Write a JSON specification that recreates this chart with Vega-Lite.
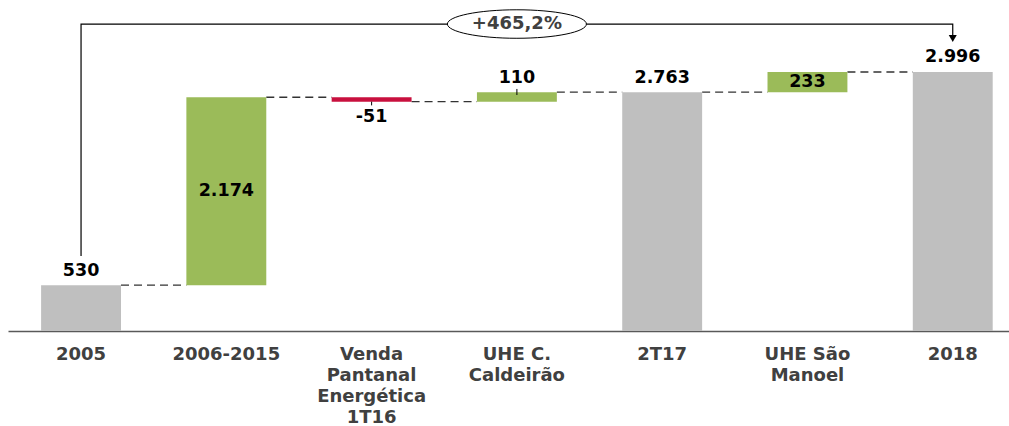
{
  "$schema": "https://vega.github.io/schema/vega-lite/v6.json",
  "autosize": {"type": "none"},
  "width": 1001,
  "height": 331,
  "padding": {"left": 8, "top": 0, "right": 0, "bottom": 95},
  "background": "white",
  "config": {
    "view": {"stroke": null}
  },
  "datasets": {
    "bars": [
      {"cat": "2005", "start": 0, "end": 530, "kind": "total", "text": "530", "ty": 694},
      {"cat": "2006-2015", "start": 530, "end": 2704, "kind": "up", "text": "2.174", "ty": 1617},
      {"cat": "Venda|Pantanal|Energética|1T16", "start": 2704, "end": 2653, "kind": "down", "text": "-51", "ty": 2475},
      {"cat": "UHE C.|Caldeirão", "start": 2653, "end": 2763, "kind": "up", "text": "110", "ty": 2932},
      {"cat": "2T17", "start": 0, "end": 2763, "kind": "total", "text": "2.763", "ty": 2927},
      {"cat": "UHE São|Manoel", "start": 2763, "end": 2996, "kind": "up", "text": "233", "ty": 2875},
      {"cat": "2018", "start": 0, "end": 2996, "kind": "total", "text": "2.996", "ty": 3175}
    ],
    "connectors": [
      {"from": "2005", "to": "2006-2015", "level": 530},
      {"from": "2006-2015", "to": "Venda|Pantanal|Energética|1T16", "level": 2704},
      {"from": "Venda|Pantanal|Energética|1T16", "to": "UHE C.|Caldeirão", "level": 2653},
      {"from": "UHE C.|Caldeirão", "to": "2T17", "level": 2763},
      {"from": "2T17", "to": "UHE São|Manoel", "level": 2763},
      {"from": "UHE São|Manoel", "to": "2018", "level": 2996}
    ],
    "leaders": [
      {"cat": "Venda|Pantanal|Energética|1T16", "y1": 2653, "y2": 2610},
      {"cat": "UHE C.|Caldeirão", "y1": 2730, "y2": 2800}
    ],
    "bracket": [
      {"cat": "2005", "v": 868, "o": 1},
      {"cat": "2005", "v": 3551, "o": 2},
      {"cat": "2018", "v": 3551, "o": 3},
      {"cat": "2018", "v": 3390, "o": 4}
    ],
    "arrow": [{"cat": "2018", "v": 3383}],
    "badge": [{"cat": "UHE C.|Caldeirão", "v": 3551, "text": "+465,2%"}]
  },
  "encoding": {
    "x": {
      "type": "nominal",
      "scale": {
        "domain": ["2005", "2006-2015", "Venda|Pantanal|Energética|1T16", "UHE C.|Caldeirão", "2T17", "UHE São|Manoel", "2018"],
        "paddingInner": 0.45, "paddingOuter": 0.17, "align": 0.67
      },
      "axis": {
        "title": null, "labelAngle": 0, "ticks": false,
        "labelExpr": "split(datum.label, '|')",
        "labelFont": "DejaVu Sans", "labelFontWeight": "bold", "labelFontSize": 18,
        "labelColor": "#404040", "labelLineHeight": 21, "labelPadding": 14,
        "domainColor": "#595959", "domainWidth": 1.5, "grid": false
      }
    }
  },
  "layer": [
    {
      "data": {"name": "connectors"},
      "mark": {"type": "rule", "strokeDash": [8, 5], "color": "#333333", "strokeWidth": 1.3},
      "encoding": {
        "x": {"field": "from", "type": "nominal", "bandPosition": 1},
        "x2": {"field": "to", "bandPosition": 0},
        "y": {"field": "level", "type": "quantitative", "scale": {"domain": [0, 3829], "nice": false}, "axis": null}
      }
    },
    {
      "data": {"name": "bars"},
      "mark": {"type": "bar"},
      "encoding": {
        "x": {"field": "cat", "type": "nominal"},
        "y": {"field": "start", "type": "quantitative"},
        "y2": {"field": "end"},
        "color": {
          "field": "kind", "type": "nominal", "legend": null,
          "scale": {"domain": ["total", "up", "down"], "range": ["#BFBFBF", "#9BBB59", "#C8103E"]}
        }
      }
    },
    {
      "data": {"name": "leaders"},
      "mark": {"type": "rule", "color": "#000000", "strokeWidth": 1},
      "encoding": {
        "x": {"field": "cat", "type": "nominal"},
        "y": {"field": "y1", "type": "quantitative"},
        "y2": {"field": "y2"}
      }
    },
    {
      "data": {"name": "bracket"},
      "mark": {"type": "line", "color": "#000000", "strokeWidth": 1.2},
      "encoding": {
        "x": {"field": "cat", "type": "nominal"},
        "y": {"field": "v", "type": "quantitative"},
        "order": {"field": "o", "type": "quantitative"}
      }
    },
    {
      "data": {"name": "arrow"},
      "mark": {"type": "point", "shape": "triangle-down", "size": 64, "filled": true, "color": "#000000", "opacity": 1},
      "encoding": {
        "x": {"field": "cat", "type": "nominal"},
        "y": {"field": "v", "type": "quantitative"}
      }
    },
    {
      "data": {"name": "badge"},
      "mark": {"type": "point", "shape": "M-1,0A1,0.205,0,1,0,1,0A1,0.205,0,1,0,-1,0Z", "size": 19321, "filled": false, "fill": "white", "fillOpacity": 1, "stroke": "#000000", "strokeWidth": 1, "opacity": 1},
      "encoding": {
        "x": {"field": "cat", "type": "nominal"},
        "y": {"field": "v", "type": "quantitative"}
      }
    },
    {
      "data": {"name": "badge"},
      "mark": {"type": "text", "font": "DejaVu Sans", "fontWeight": "bold", "fontSize": 18, "color": "#404040", "baseline": "middle", "align": "center"},
      "encoding": {
        "x": {"field": "cat", "type": "nominal"},
        "y": {"field": "v", "type": "quantitative"},
        "text": {"field": "text"}
      }
    },
    {
      "data": {"name": "bars"},
      "mark": {"type": "text", "font": "DejaVu Sans", "fontWeight": "bold", "fontSize": 17.5, "color": "#000000", "baseline": "middle", "align": "center"},
      "encoding": {
        "x": {"field": "cat", "type": "nominal"},
        "y": {"field": "ty", "type": "quantitative"},
        "text": {"field": "text"}
      }
    }
  ]
}
